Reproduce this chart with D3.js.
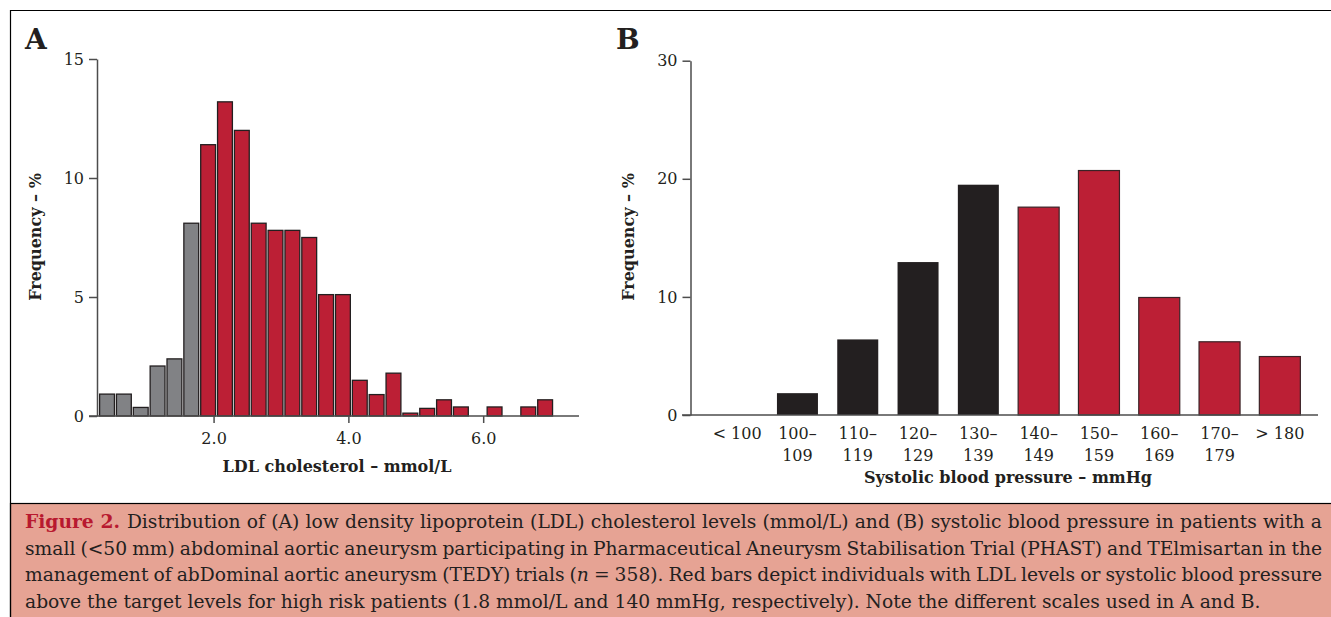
<!DOCTYPE html>
<html>
<head>
<meta charset="utf-8">
<script src="https://cdn.jsdelivr.net/npm/d3@7"></script>
<style>
  body { margin: 0; background: #fff; }
  svg { display: block; }
  text { font-family: "DejaVu Serif", serif; fill: #231f20; }
</style>
</head>
<body>
<div id="chart"></div>
<script>
// panel A: LDL cholesterol histogram, bins of 0.25 mmol/L
const ldlStart = 0.3
const ldlBinWidth = 0.25
const ldlTarget = 1.8
const ldlFreq = [0.92, 0.92, 0.36, 2.1, 2.4, 8.1, 11.4, 13.2, 12.0, 8.1, 7.8, 7.8, 7.5, 5.1, 5.1,
                 1.5, 0.9, 1.8, 0.12, 0.32, 0.68, 0.38, 0, 0.38, 0, 0.38, 0.68]
const ldlTicks = [2.0, 4.0, 6.0]
const ldlYTicks = [0, 5, 10, 15]

// panel B: systolic blood pressure
const sbpLabels = [["< 100", ""], ["100–", "109"], ["110–", "119"], ["120–", "129"], ["130–", "139"],
                   ["140–", "149"], ["150–", "159"], ["160–", "169"], ["170–", "179"], ["> 180", ""]]
const sbpLower = [90, 100, 110, 120, 130, 140, 150, 160, 170, 180]
const sbpTarget = 140
const sbpFreq = [0, 1.85, 6.4, 12.95, 19.5, 17.6, 20.7, 9.95, 6.2, 4.95]
const sbpYTicks = [0, 10, 20, 30]

const captionLines = [
  ["Distribution of (A) low density lipoprotein (LDL) cholesterol levels (mmol/L) and (B) systolic blood pressure in patients with a"],
  ["small (<50 mm) abdominal aortic aneurysm participating in Pharmaceutical Aneurysm Stabilisation Trial (PHAST) and TElmisartan in the"],
  ["management of abDominal aortic aneurysm (TEDY) trials (", "n", " = 358). Red bars depict individuals with LDL levels or systolic blood pressure"],
  ["above the target levels for high risk patients (1.8 mmol/L and 140 mmHg, respectively). Note the different scales used in A and B."]
]

const RED = "#bc1f35", GRAY = "#818285", BLACK = "#231f20", AXIS = "#4d4d4d"

let svg = d3.select("#chart").append("svg").attr("width", 1331).attr("height", 617)

// frame + caption box
svg.append("rect").attr("x", 10.5).attr("y", 503.5).attr("width", 1330).attr("height", 120)
   .attr("fill", "#e6a394").attr("stroke", "#000").attr("stroke-width", 1.2)
svg.append("path").attr("d", "M10.5,620V10.5H1335").attr("fill", "none").attr("stroke", "#000").attr("stroke-width", 1.2)

// ---------- panel A ----------
let gA = svg.append("g")
let xA = d3.scaleLinear().domain([ldlStart, ldlStart + ldlBinWidth * ldlFreq.length]).range([99, 99 + 16.85 * ldlFreq.length])
let yA = d3.scaleLinear().domain([0, 15]).range([416, 59])
let ldlBins = ldlFreq.map((v, i) => ({ v: v, lo: ldlStart + i * ldlBinWidth })).filter(d => d.v > 0)

gA.selectAll(".barA")
  .data(ldlBins)
  .enter()
  .append("rect")
  .attr("class", "barA")
  .attr("x", d => xA(d.lo) + 0.6)
  .attr("width", d => xA(d.lo + ldlBinWidth) - xA(d.lo) - 2)
  .attr("y", d => yA(d.v))
  .attr("height", d => yA(0) - yA(d.v))
  .attr("fill", d => d.lo >= ldlTarget - 1e-9 ? RED : GRAY)
  .attr("stroke", BLACK)
  .attr("stroke-width", 1.3)

gA.append("g").attr("transform", "translate(97,0)")
  .call(d3.axisLeft(yA).tickValues(ldlYTicks).tickSize(8).tickSizeOuter(0).tickPadding(5))
let xAxisA = gA.append("g").attr("transform", "translate(0,416)")
  .call(d3.axisBottom(xA).tickValues(ldlTicks).tickFormat(d3.format(".1f")).tickSize(7).tickPadding(10))
xAxisA.select(".domain").remove()
gA.append("line").attr("x1", 89).attr("x2", 579).attr("y1", 416).attr("y2", 416)
  .attr("stroke", AXIS).attr("stroke-width", 1.5)

gA.append("text").attr("x", 337).attr("y", 472).attr("text-anchor", "middle")
  .attr("font-weight", "bold").attr("font-size", 16).text("LDL cholesterol – mmol/L")
gA.append("text").attr("transform", "translate(41,237) rotate(-90)").attr("text-anchor", "middle")
  .attr("font-weight", "bold").attr("font-size", 16).text("Frequency – %")
gA.append("text").attr("x", 25).attr("y", 49).attr("font-weight", "bold").attr("font-size", 28).text("A")

// ---------- panel B ----------
let gB = svg.append("g")
let xB = d3.scaleBand().domain(d3.range(sbpFreq.length)).range([707, 1310]).paddingInner(0.32).paddingOuter(0.16)
let yB = d3.scaleLinear().domain([0, 30]).range([415, 60.7])
let sbpBins = sbpFreq.map((v, i) => ({ v: v, i: i, high: sbpLower[i] >= sbpTarget })).filter(d => d.v > 0)

gB.selectAll(".barB")
  .data(sbpBins)
  .enter()
  .append("rect")
  .attr("class", "barB")
  .attr("x", d => xB(d.i))
  .attr("width", xB.bandwidth())
  .attr("y", d => yB(d.v))
  .attr("height", d => yB(0) - yB(d.v))
  .attr("fill", d => d.high ? RED : BLACK)
  .attr("stroke", d => d.high ? "#3a2226" : "none")
  .attr("stroke-width", 1.2)

gB.append("g").attr("transform", "translate(690.5,0)")
  .call(d3.axisLeft(yB).tickValues(sbpYTicks).tickSize(8).tickSizeOuter(0).tickPadding(5))
gB.append("line").attr("x1", 682).attr("x2", 1318).attr("y1", 415).attr("y2", 415)
  .attr("stroke", AXIS).attr("stroke-width", 1.5)

let catLabels = gB.selectAll(".catB")
  .data(sbpLabels)
  .enter()
  .append("text")
  .attr("class", "catB")
  .attr("text-anchor", "middle")
  .attr("font-size", 16)
catLabels.append("tspan").attr("x", (d, i) => xB(i) + xB.bandwidth() / 2).attr("y", 439).text(d => d[0])
catLabels.append("tspan").attr("x", (d, i) => xB(i) + xB.bandwidth() / 2).attr("y", 461).text(d => d[1])

gB.append("text").attr("x", 1008).attr("y", 483).attr("text-anchor", "middle")
  .attr("font-weight", "bold").attr("font-size", 16).text("Systolic blood pressure – mmHg")
gB.append("text").attr("transform", "translate(634,237) rotate(-90)").attr("text-anchor", "middle")
  .attr("font-weight", "bold").attr("font-size", 16).text("Frequency – %")
gB.append("text").attr("x", 616).attr("y", 49).attr("font-weight", "bold").attr("font-size", 28).text("B")

// axis styling
svg.selectAll(".tick text").attr("font-size", 16).attr("font-family", "DejaVu Serif").attr("fill", BLACK)
svg.selectAll(".domain, .tick line").attr("stroke", AXIS).attr("stroke-width", 1.5)

// ---------- caption (justified with word spacing) ----------
let cap = svg.append("g")
captionLines.forEach((parts, li) => {
  let t = cap.append("text").attr("x", 25).attr("y", 528 + li * 26.5).attr("font-size", 18.7)
  if (li === 0) {
    t.append("tspan").attr("fill", "#b8192f").attr("font-weight", "bold").text("Figure 2. ")
  }
  parts.forEach(p => {
    let s = t.append("tspan").text(p)
    if (p === "n") s.attr("font-style", "italic")
  })
  if (li < captionLines.length - 1) {
    let w = t.node().getComputedTextLength()
    let spaces = (t.text().match(/ /g) || []).length
    t.attr("word-spacing", (1297 - w) / spaces)
  }
})
</script>
</body>
</html>
